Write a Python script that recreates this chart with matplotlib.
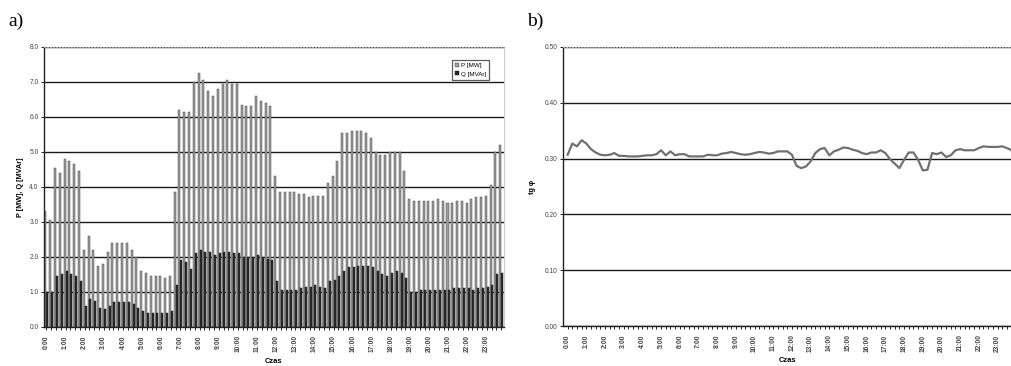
import numpy as np
import matplotlib
matplotlib.use('Agg')
import matplotlib.pyplot as plt

# 96 quarter-hour values, 0:00 .. 23:45
p_mw = [3.30, 3.05, 4.55, 4.40, 4.80, 4.75, 4.65, 4.45,
        2.20, 2.60, 2.20, 1.75, 1.80, 2.15, 2.40, 2.40,
        2.40, 2.40, 2.20, 2.00, 1.60, 1.55, 1.45, 1.45,
        1.45, 1.40, 1.45, 3.85, 6.20, 6.15, 6.15, 7.00,
        7.25, 7.05, 6.75, 6.60, 6.80, 6.95, 7.05, 6.95,
        6.95, 6.35, 6.30, 6.30, 6.60, 6.45, 6.40, 6.30,
        4.30, 3.85, 3.85, 3.85, 3.85, 3.80, 3.80, 3.70,
        3.75, 3.75, 3.75, 4.10, 4.30, 4.75, 5.55, 5.55,
        5.60, 5.60, 5.60, 5.55, 5.40, 5.00, 4.90, 4.90,
        5.00, 5.00, 5.00, 4.45, 3.65, 3.60, 3.60, 3.60,
        3.60, 3.60, 3.65, 3.60, 3.55, 3.55, 3.60, 3.60,
        3.55, 3.65, 3.70, 3.70, 3.75, 4.05, 5.00, 5.20]

q_mvar = [1.00, 1.00, 1.45, 1.50, 1.60, 1.50, 1.45, 1.30,
          0.60, 0.80, 0.75, 0.55, 0.50, 0.60, 0.70, 0.70,
          0.70, 0.70, 0.65, 0.55, 0.45, 0.40, 0.40, 0.40,
          0.40, 0.40, 0.45, 1.20, 1.90, 1.85, 1.65, 2.10,
          2.20, 2.15, 2.15, 2.05, 2.10, 2.15, 2.15, 2.10,
          2.10, 2.00, 2.00, 2.00, 2.05, 2.00, 1.95, 1.90,
          1.30, 1.05, 1.05, 1.05, 1.05, 1.10, 1.15, 1.15,
          1.20, 1.15, 1.10, 1.30, 1.35, 1.45, 1.60, 1.70,
          1.70, 1.75, 1.75, 1.75, 1.70, 1.60, 1.50, 1.45,
          1.55, 1.60, 1.55, 1.40, 1.00, 1.00, 1.05, 1.05,
          1.05, 1.05, 1.05, 1.05, 1.05, 1.10, 1.10, 1.10,
          1.10, 1.05, 1.10, 1.10, 1.15, 1.20, 1.50, 1.55]

tg_phi = [0.307, 0.327, 0.322, 0.333, 0.327, 0.317, 0.311, 0.307,
          0.306, 0.307, 0.310, 0.305, 0.305, 0.304, 0.304, 0.304,
          0.305, 0.306, 0.306, 0.308, 0.315, 0.306, 0.313, 0.306,
          0.308, 0.308, 0.304, 0.304, 0.304, 0.304, 0.307, 0.306,
          0.306, 0.309, 0.310, 0.312, 0.310, 0.308, 0.307, 0.308,
          0.310, 0.312, 0.311, 0.309, 0.310, 0.313, 0.313, 0.313,
          0.307, 0.287, 0.283, 0.286, 0.295, 0.310, 0.317, 0.319,
          0.306, 0.313, 0.316, 0.320, 0.319, 0.316, 0.314, 0.310,
          0.308, 0.311, 0.311, 0.315, 0.310, 0.299, 0.291, 0.283,
          0.298, 0.311, 0.311, 0.298, 0.279, 0.280, 0.310, 0.308,
          0.311, 0.303, 0.306, 0.315, 0.317, 0.315, 0.315, 0.315,
          0.319, 0.322, 0.321, 0.321, 0.321, 0.322, 0.319, 0.315]

hour_labels = ['{}:00'.format(h) for h in range(24)]

plt.rcParams['font.family'] = ['Liberation Sans', 'DejaVu Sans']
plt.rcParams['xtick.direction'] = 'out'
plt.rcParams['ytick.direction'] = 'out'

fig = plt.figure(figsize=(10.12, 3.66), dpi=100)

def style_axes(ax):
    ax.spines['top'].set_color('#aaaaaa')
    ax.spines['top'].set_linestyle(':')
    ax.spines['right'].set_color('#cccccc')
    ax.spines['left'].set_color('#222222')
    ax.spines['bottom'].set_color('#222222')
    ax.spines['left'].set_linewidth(1.0)
    ax.spines['bottom'].set_linewidth(1.0)
    ax.yaxis.grid(True, color='#1a1a1a', linewidth=1.0)
    ax.set_axisbelow(True)
    ax.set_xticks(range(0, 96, 4))
    ax.set_xticks(range(96), minor=True)
    ax.set_xticklabels(hour_labels, rotation=90, fontsize=4.8, fontweight='bold', color='#444444')
    ax.tick_params(axis='x', which='both', length=2, width=0.6, pad=4)
    ax.tick_params(axis='y', length=2, width=0.6, labelsize=4.8, pad=2, labelcolor='#444444')
    ax.set_xlabel('Czas', fontsize=5.5, fontweight='bold', labelpad=4)

# a) P and Q bars
ax1 = fig.add_axes([0.0435, 0.1066, 0.4545, 0.765])
x = np.arange(96)
ax1.bar(x - 0.2, p_mw, width=0.42, color='#9c9c9c', edgecolor='#4a4a4a', linewidth=0.35, label='P [MW]')
ax1.bar(x + 0.2, q_mvar, width=0.42, color='#262626', edgecolor='#262626', linewidth=0.35, label='Q [MVAr]')
ax1.set_xlim(-0.5, 95.6)
ax1.set_ylim(0, 8)
ax1.set_yticks(np.arange(0, 9, 1))
ax1.set_yticklabels(['{:.1f}'.format(v) for v in np.arange(0, 9, 1)])
ax1.set_ylabel('P [MW], Q [MVAr]', fontsize=5.2, fontweight='bold', labelpad=4)
style_axes(ax1)
leg = ax1.legend(loc='upper right', bbox_to_anchor=(0.975, 0.965), fontsize=4.5, frameon=True,
                 fancybox=False, edgecolor='#333333', handlelength=0.6, handleheight=0.6,
                 handletextpad=0.3, borderpad=0.5, labelspacing=0.5)
leg.get_frame().set_linewidth(0.9)

# b) tg phi line
ax2 = fig.add_axes([0.5563, 0.109, 0.4437, 0.7626])
ax2.plot(x, tg_phi, color='#707070', linewidth=1.6)
ax2.set_xlim(-1, 95.1)
ax2.set_ylim(0, 0.5)
ax2.set_yticks(np.arange(0, 0.51, 0.1))
ax2.set_yticklabels(['{:.2f}'.format(v) for v in np.arange(0, 0.51, 0.1)])
ax2.set_ylabel('tg φ', fontsize=5.2, fontweight='bold', labelpad=6)
style_axes(ax2)

fig.text(0.008, 0.93, 'a)', fontsize=14, family='Liberation Serif')
fig.text(0.521, 0.93, 'b)', fontsize=14, family='Liberation Serif')

plt.savefig('out.png', dpi=100)
